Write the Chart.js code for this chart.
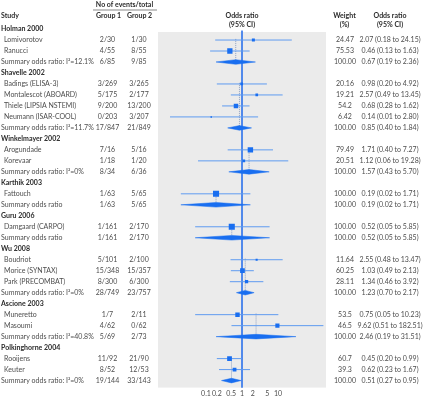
<!DOCTYPE html>
<html><head><meta charset="utf-8">
<script src="https://cdn.jsdelivr.net/npm/chart.js@4.4.1/dist/chart.umd.min.js"></script>
<style>html,body{margin:0;padding:0;background:#fff}#wrap{width:424px;height:400px}</style>
</head><body><div id="wrap"><canvas id="c" width="424" height="400"></canvas></div>
<script>
const rowLabels = ['Holman 2000','Lomivorotov','Ranucci','Summary odds ratio: I\u00b2=12.1%',
  'Shavelle 2002','Badings (ELISA-3)','Montalescot (ABOARD)','Thiele (LIPSIA NSTEMI)','Neumann (ISAR-COOL)','Summary odds ratio: I\u00b2=11.7%',
  'Winkelmayer 2002','Arogundade','Korevaar','Summary odds ratio: I\u00b2=0%',
  'Karthik 2003','Fattouch','Summary odds ratio',
  'Guru 2006','Damgaard (CARPO)','Summary odds ratio',
  'Wu 2008','Boudriot','Morice (SYNTAX)','Park (PRECOMBAT)','Summary odds ratio: I\u00b2=0%',
  'Ascione 2003','Muneretto','Masoumi','Summary odds ratio: I\u00b2=40.8%',
  'Polkinghorne 2004','Rooijens','Keuter','Summary odds ratio: I\u00b2=0%'];
const rowKind = ['g','s','s','m', 'g','s','s','s','s','m', 'g','s','s','m', 'g','s','m', 'g','s','m', 'g','s','s','s','m', 'g','s','s','m', 'g','s','s','m'];
const group1 = ['', '2/30','4/55','6/85', '', '3/269','5/175','9/200','0/203','17/847', '', '7/16','1/18','8/34', '', '1/63','1/63', '', '1/161','1/161', '', '5/101','15/348','8/300','28/749', '', '1/7','4/62','5/69', '', '11/92','8/52','19/144'];
const group2 = ['', '1/30','8/55','9/85', '', '3/265','2/177','13/200','3/207','21/849', '', '5/16','1/20','6/36', '', '5/65','5/65', '', '2/170','2/170', '', '2/100','15/357','6/300','23/757', '', '2/11','0/62','2/73', '', '21/90','12/53','33/143'];
const weights = ['', '24.47','75.53','100.00', '', '20.16','19.21','54.2','6.42','100.00', '', '79.49','20.51','100.00', '', '100.00','100.00', '', '100.00','100.00', '', '11.64','60.25','28.11','100.00', '', '53.5','46.5','100.00', '', '60.7','39.3','100.00'];
const oddsRatio = [null, 2.07,0.46,0.67, null, 0.98,2.57,0.68,0.14,0.85, null, 1.71,1.12,1.57, null, 0.19,0.19, null, 0.52,0.52, null, 2.55,1.03,1.34,1.23, null, 0.75,9.62,2.46, null, 0.45,0.62,0.51];
const ciLower = [null, 0.18,0.13,0.19, null, 0.20,0.49,0.28,0.01,0.40, null, 0.40,0.06,0.43, null, 0.02,0.02, null, 0.05,0.05, null, 0.48,0.49,0.46,0.70, null, 0.05,0.51,0.19, null, 0.20,0.23,0.27];
const ciUpper = [null, 24.15,1.63,2.36, null, 4.92,13.45,1.62,2.80,1.84, null, 7.27,19.28,5.70, null, 1.71,1.71, null, 5.85,5.85, null, 13.47,2.13,3.92,2.17, null, 10.23,182.51,31.51, null, 0.99,1.67,0.95];
const xTicks = [0.1, 0.2, 0.5, 1, 2, 5, 10];

const FONT = 'Lato';
const BLUE = 'rgb(25,110,240)';
const LINEBLUE = 'rgb(95,155,240)';
const Y_MIN = 0.27, Y_MAX = 32.64;
const X_MIN = Math.pow(10, -84/36), X_MAX = Math.pow(10, 84/36);

// build datasets from arrays
const ciData = [], squareData = [], squareRadius = [], dotData = [];
let groupStart = 0;
rowKind.forEach((k, i) => {
  if (k === 'g') groupStart = i + 1;
  if (k === 's') {
    ciData.push({x: ciLower[i], y: i}, {x: ciUpper[i], y: i}, {x: null, y: null});
    squareData.push({x: oddsRatio[i], y: i});
    squareRadius.push(0.43 * Math.sqrt(parseFloat(weights[i])));
  }
  if (k === 'm') {
    dotData.push({x: oddsRatio[i], y: groupStart - 0.1}, {x: oddsRatio[i], y: i}, {x: null, y: null});
  }
});
const DH = 0.21;
const diamondSets = [];
rowKind.forEach((k, i) => {
  if (k !== 'm') return;
  diamondSets.push({
    type: 'scatter', showLine: true, order: 1,
    data: [{x: ciLower[i], y: i}, {x: oddsRatio[i], y: i - DH}, {x: ciUpper[i], y: i}, {x: oddsRatio[i], y: i + DH}, {x: ciLower[i], y: i}],
    borderColor: BLUE, backgroundColor: BLUE, borderWidth: 0.5, pointRadius: 0, fill: 'shape', tension: 0
  });
});

const textPlugin = {
  id: 'forestText',
  beforeDraw(chart) {
    const a = chart.chartArea, ctx = chart.ctx;
    ctx.save();
    ctx.fillStyle = '#ebebeb';
    ctx.fillRect(a.left, a.top, a.right - a.left, a.bottom - a.top);
    ctx.restore();
  },
  afterDraw(chart) {
    const ctx = chart.ctx, ys = chart.scales.y;
    ctx.save();
    ctx.textBaseline = 'middle';
    const bold = 'bold 7px ' + FONT, reg = '7px ' + FONT;
    const dark = '#2b2b2b', grey = '#4d4d4d';
    // headers
    ctx.fillStyle = dark; ctx.font = bold;
    ctx.textAlign = 'center';
    ctx.fillText('No of events/total', 124.5, 4.5);
    ctx.fillText('Group 1', 108.5, 15.5);
    ctx.fillText('Group 2', 139.5, 15.5);
    ctx.fillText('Odds ratio', 242, 15.5);
    ctx.fillText('(95% CI)', 242, 24.5);
    ctx.fillText('Weight', 344.5, 15.5);
    ctx.fillText('(%)', 344.5, 24.5);
    ctx.fillText('Odds ratio', 390, 15.5);
    ctx.fillText('(95% CI)', 390, 24.5);
    ctx.textAlign = 'left';
    ctx.fillText('Study', 1, 15.5);
    ctx.strokeStyle = '#555'; ctx.lineWidth = 0.7;
    ctx.beginPath(); ctx.moveTo(93, 10); ctx.lineTo(157, 10); ctx.stroke();
    // rows
    rowLabels.forEach((lab, i) => {
      const y = ys.getPixelForValue(i);
      const k = rowKind[i];
      ctx.textAlign = 'left';
      if (k === 'g') { ctx.font = bold; ctx.fillStyle = dark; ctx.fillText(lab, 1, y); return; }
      ctx.font = reg; ctx.fillStyle = grey;
      ctx.fillText(lab, k === 's' ? 4 : 1, y);
      ctx.textAlign = 'center';
      ctx.fillText(group1[i], 107.5, y);
      ctx.fillText(group2[i], 139, y);
      ctx.fillText(weights[i], 345, y);
      ctx.fillText(oddsRatio[i].toFixed(2) + ' (' + ciLower[i].toFixed(2) + ' to ' + ciUpper[i].toFixed(2) + ')', 390, y);
    });
    ctx.restore();
  }
};

new Chart(document.getElementById('c'), {
  type: 'scatter',
  data: {
    datasets: [
      {type: 'scatter', order: 0, data: squareData, pointStyle: 'rect', pointRadius: squareRadius, pointHoverRadius: squareRadius,
       backgroundColor: BLUE, borderWidth: 0, showLine: false},
      ...diamondSets,
      {type: 'scatter', order: 2, data: ciData, showLine: true, spanGaps: false, borderColor: LINEBLUE, borderWidth: 1, pointRadius: 0, fill: false},
      {type: 'scatter', order: 3, data: [{x: 1, y: 0.15}, {x: 1, y: Y_MAX}], showLine: true, borderColor: 'rgb(60,125,235)', borderWidth: 1, pointRadius: 0, fill: false, clip: false},
      {type: 'scatter', order: 4, data: dotData, showLine: true, spanGaps: false, borderColor: 'rgb(140,160,195)', borderWidth: 1, borderDash: [1, 1], pointRadius: 0, fill: false}
    ]
  },
  options: {
    responsive: false, animation: false,
    devicePixelRatio: 1,
    layout: {padding: {left: 158, right: 98, top: 32, bottom: 0}},
    plugins: {legend: {display: false}, tooltip: {enabled: false}},
    scales: {
      x: {
        type: 'logarithmic', min: X_MIN, max: X_MAX, bounds: 'data',
        grid: {display: false, drawTicks: false}, border: {display: false},
        afterBuildTicks(scale) { scale.ticks = xTicks.map(v => ({value: v})); },
        ticks: {autoSkip: false, maxRotation: 0, minRotation: 0, padding: 2, color: '#4d4d4d',
          font: {family: FONT, size: 7}, callback: (v) => String(v)}
      },
      y: {type: 'linear', reverse: true, min: Y_MIN, max: Y_MAX, display: false}
    }
  },
  plugins: [textPlugin]
});
</script>
</body></html>
